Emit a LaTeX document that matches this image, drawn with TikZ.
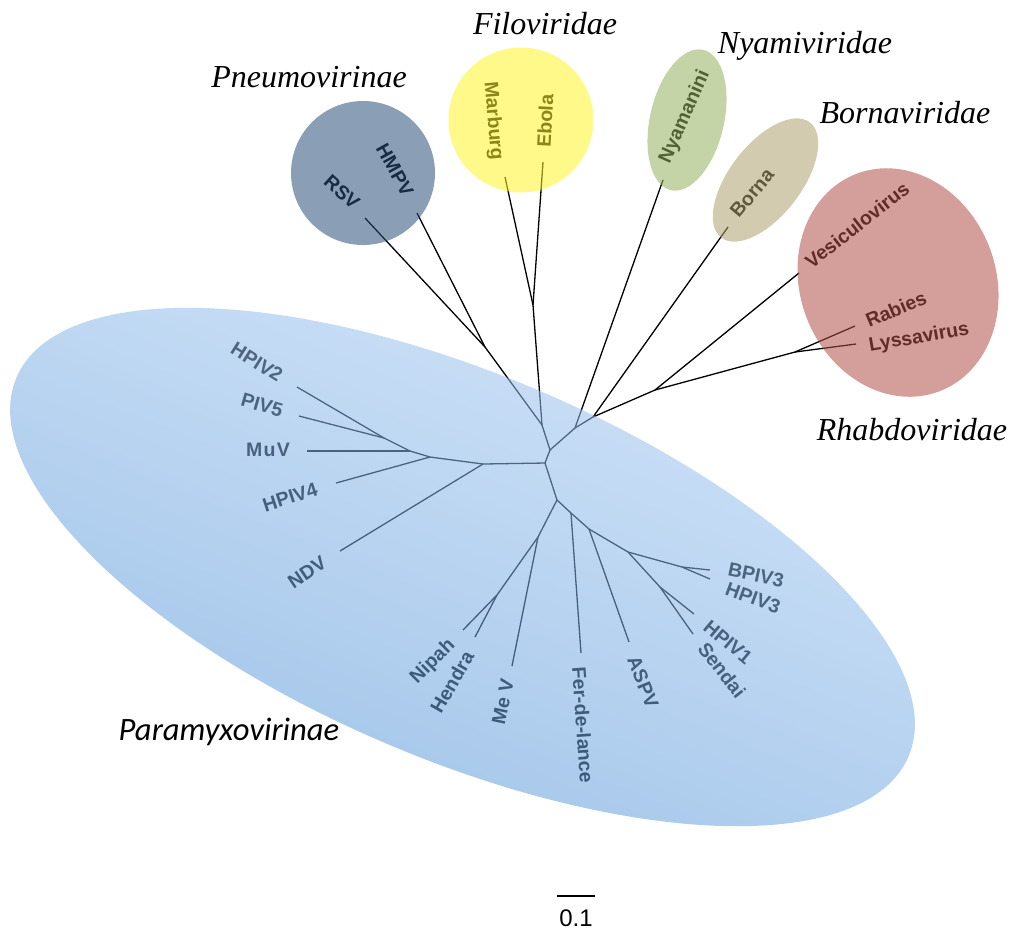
\documentclass[tikz,border=0pt]{standalone}
\usepackage{fontspec}
\setmainfont{Liberation Serif}
\setsansfont{Liberation Sans}
\newfontfamily\calfont{Carlito}
\usepackage{tikz}
\usetikzlibrary{positioning}
\definecolor{pneuC}{RGB}{42,80,120}
\definecolor{filoC}{RGB}{255,244,42}
\definecolor{nyamC}{RGB}{150,177,93}
\definecolor{bornC}{RGB}{175,160,111}
\definecolor{rhabC}{RGB}{177,79,73}
\definecolor{paraT}{RGB}{172,205,244}
\definecolor{paraB}{RGB}{80,146,213}

\begin{document}
\begin{tikzpicture}[x=0.5pt, y=-0.5pt, semithick,
    tip/.style={font=\sffamily\bfseries\fontsize{9.75}{11}\selectfont, inner sep=0pt},
    fam/.style={font=\itshape\fontsize{16}{18}\selectfont, anchor=base, inner sep=0pt},
    br/.style={line width=0.65pt}]
    \useasboundingbox (0,0) rectangle (1011,934);
    % inner nodes of the tree
    \coordinate (A) at (545,463);
    \coordinate (B) at (550,450);
    \coordinate (C) at (542,425);
    \coordinate (pn) at (485,347);
    \coordinate (fi) at (533,305);
    \coordinate (D) at (575,428);
    \coordinate (E) at (593,417);
    \coordinate (F) at (655,390);
    \coordinate (ly) at (795,352);
    \coordinate (J) at (483,464);
    \coordinate (G) at (430,457);
    \coordinate (H) at (410,451);
    \coordinate (I) at (384,438);
    \coordinate (K) at (557,500);
    \coordinate (L) at (538,537);
    \coordinate (M) at (497,595);
    \coordinate (N) at (571,513);
    \coordinate (O) at (589,529);
    \coordinate (P) at (628,552);
    \coordinate (Q) at (682,567);
    \coordinate (R) at (660,587);
    % leaf ends
    \coordinate (rsv_e) at (365,218);
    \coordinate (hmpv_e) at (417,213);
    \coordinate (marb_e) at (505,177);
    \coordinate (ebola_e) at (543,162);
    \coordinate (nyama_e) at (663,180);
    \coordinate (borna_e) at (728,227);
    \coordinate (vesic_e) at (799,273);
    \coordinate (rabies_e) at (855,326);
    \coordinate (lyssa_e) at (856,344);
    \coordinate (hpiv2_e) at (297,387);
    \coordinate (piv5_e) at (299,416);
    \coordinate (muv_e) at (307,451);
    \coordinate (hpiv4_e) at (336,483);
    \coordinate (ndv_e) at (340,551);
    \coordinate (nipah_e) at (463,630);
    \coordinate (hendra_e) at (475,637);
    \coordinate (mev_e) at (512,666);
    \coordinate (ferde_e) at (581,653);
    \coordinate (aspv_e) at (629,642);
    \coordinate (hpiv1_e) at (694,614);
    \coordinate (sendai_e) at (693,634);
    \coordinate (bpiv3_e) at (710,570);
    \coordinate (hpiv3_e) at (710,579);
    % branches
    \foreach \u/\v in {A/B, B/C, C/pn, C/fi, B/D, D/E, E/F, F/ly,
        pn/rsv_e, pn/hmpv_e, fi/marb_e, fi/ebola_e, D/nyama_e, E/borna_e,
        F/vesic_e, ly/rabies_e, ly/lyssa_e,
        A/J, J/G, G/H, H/I, I/hpiv2_e, I/piv5_e, H/muv_e, G/hpiv4_e, J/ndv_e,
        A/K, K/L, L/M, M/nipah_e, M/hendra_e, L/mev_e, K/N, N/ferde_e, N/O,
        O/aspv_e, O/P, P/Q, Q/bpiv3_e, Q/hpiv3_e, P/R, R/hpiv1_e, R/sendai_e}
        \draw[br] (\u) -- (\v);
    % tip labels
    \node[tip, rotate=-42] (rsv) at (342,192) {RSV};
    \node[tip, rotate=-61] (hmpv) at (395,170) {HMPV};
    \node[tip, rotate=-85] (marb) at (493,121) {Marburg};
    \node[tip, rotate=87] (ebola) at (545,121) {Ebola};
    \node[tip, rotate=66] (nyama) at (685,117) {Nyamanini};
    \node[tip, rotate=50] (borna) at (752,193) {Borna};
    \node[tip, rotate=38] (vesic) at (857,225) {Vesiculovirus};
    \node[tip, rotate=23] (rabies) at (896,309) {Rabies};
    \node[tip, rotate=10] (lyssa) at (919,338) {Lyssavirus};
    \node[tip, rotate=-32] (hpiv2) at (257,362) {HPIV2};
    \node[tip, rotate=-16] (piv5) at (262,405) {PIV5};
    \node[tip] (muv) at (268,450) {M\kern0.6pt u\kern0.6pt V};
    \node[tip, rotate=18] (hpiv4) at (290,497) {HPIV4};
    \node[tip, rotate=34] (ndv) at (307,572) {NDV};
    \node[tip, rotate=45] (nipah) at (433,662) {Nipah};
    \node[tip, rotate=60] (hendra) at (452,682) {Hendra};
    \node[tip, rotate=78] (mev) at (503,702) {Me V};
    \node[tip, rotate=-86] (ferde) at (583,725) {Fer-de-lance};
    \node[tip, rotate=-68] (aspv) at (643,682) {ASPV};
    \node[tip, rotate=-40] (hpiv1) at (728,642) {HPIV1};
    \node[tip, rotate=-52] (sendai) at (722,670) {Sendai};
    \node[tip, rotate=-12] (bpiv3) at (756,575) {BPIV3};
    \node[tip, rotate=-20] (hpiv3) at (753,598) {HPIV3};
    % family names
    \node[fam] (pneu) at (309,87) {Pneumovirinae};
    \node[fam] (filo) at (545,34) {Filoviridae};
    \node[fam] (nyam) at (805,53) {Nyamiviridae};
    \node[fam] (born) at (905,123) {Bornaviridae};
    \node[fam] (rhab) at (912,440) {Rhabdoviridae};
    \node[fam, font=\calfont\itshape\fontsize{16.3}{19}\selectfont] (para) at (229,740) {Paramyxovirinae};
    % scale bar
    \coordinate (s0) at (557,896);
    \coordinate (s1) at (595,896);
    \draw[br] (s0) -- (s1);
    \node[font=\sffamily\fontsize{12}{14}\selectfont, inner sep=0pt] (scale) at (576,918) {0.1};
    % clade blobs on top
    \fill[pneuC, opacity=.55] (363,173) circle [radius=72];
    \fill[filoC, opacity=.55] (521,120) circle [radius=72.5];
    \fill[nyamC, opacity=.55, rotate around={77:(687,120)}] (687,120) ellipse [x radius=72, y radius=37];
    \fill[bornC, opacity=.55, rotate around={52.4:(765.5,180)}] (765.5,180) ellipse [x radius=72.7, y radius=36];
    \fill[rhabC, opacity=.55, rotate around={20.8:(898,282.5)}] (898,282.5) ellipse [x radius=98, y radius=116.4];
    \shade[top color=paraT, bottom color=paraB, shading angle=-22, opacity=.55,
        rotate around={-23:(462.5,567)}] (462.5,567) ellipse [x radius=484.6, y radius=192.3];
\end{tikzpicture}
\end{document}
